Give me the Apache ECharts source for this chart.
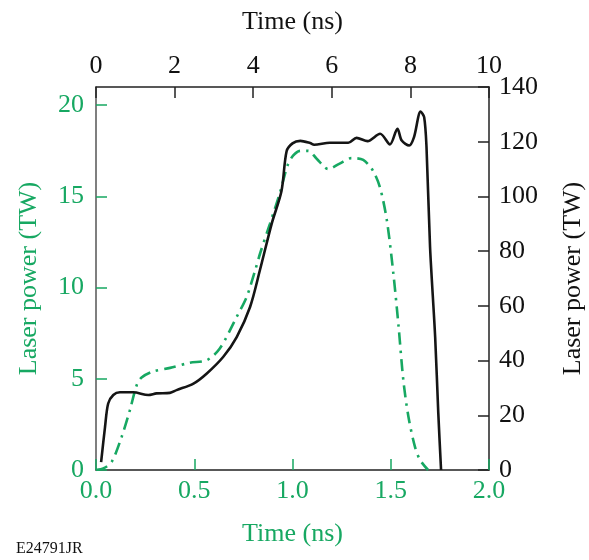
<!DOCTYPE html>
<html>
<head>
<meta charset="utf-8">
<script src="https://cdn.jsdelivr.net/npm/echarts@6/dist/echarts.min.js"></script>
<style>
html,body{margin:0;padding:0;background:#fff;}
#chart{width:589px;height:560px;}
</style>
</head>
<body>
<div id="chart"></div>
<script>
// Black solid curve: top axis time (ns), right axis power (TW)
var blackTime = [0.13,0.23,0.31,0.44,0.61,0.95,1.33,1.54,1.88,2.05,2.48,2.82,3.24,3.58,3.92,4.17,4.47,4.72,4.85,5.0,5.2,5.45,5.55,5.95,6.42,6.63,6.91,7.23,7.48,7.67,7.78,7.97,8.09,8.26,8.35,8.41,8.5,8.63,8.71,8.78];
var blackPower = [2.9,15.8,24.3,27.4,28.4,28.4,27.4,28,28.2,29.2,31.6,35.3,41.4,48.6,59.6,73,90,102,116.5,119.4,120.3,119.5,118.9,119.6,119.6,121.4,120.2,122.9,119,124.7,120.4,118.6,121.6,131,129,118,81.5,48.6,20.7,0];
// Green dash-dot curve: bottom axis time (ns), left axis power (TW)
var greenTime = [0.0,0.04,0.08,0.13,0.173,0.207,0.232,0.29,0.377,0.478,0.563,0.63,0.716,0.767,0.81,0.835,0.885,0.936,0.975,1.004,1.04,1.08,1.123,1.182,1.24,1.3,1.36,1.41,1.445,1.48,1.513,1.54,1.564,1.59,1.623,1.649,1.69];
var greenPower = [0,0.1,0.45,1.8,3.3,4.65,5.07,5.4,5.6,5.88,6.02,6.66,8.4,9.5,10.95,11.87,13.5,15.2,16.7,17.25,17.5,17.5,17.07,16.5,16.8,17.1,17.0,16.4,15.5,13.7,10.8,7.85,4.93,2.92,1.28,0.55,0];
var leftTicks = [0,5,10,15,20];
var rightTicks = [0,20,40,60,80,100,120,140];
var bottomTicks = [0,0.5,1.0,1.5,2.0];
var topTicks = [0,2,4,6,8,10];

var GREEN = '#17a862';
var FONT = '"Liberation Serif", "DejaVu Serif", serif';
var FS = 26;

function pairs(xs, ys){ return xs.map(function(x,i){ return [x, ys[i]]; }); }

var chart = echarts.init(document.getElementById('chart'), null, {renderer:'canvas'});
chart.setOption({
  animation:false,
  backgroundColor:'#fff',
  textStyle:{fontFamily:FONT},
  grid:{left:96, right:100, top:87, bottom:90, containLabel:false, outerBoundsMode:'none'},
  xAxis:[{
    type:'value', position:'bottom', min:0, max:2, interval:0.5,
    name:'Time (ns)', nameLocation:'middle', nameGap:51,
    nameTextStyle:{color:GREEN, fontSize:FS, fontFamily:FONT},
    axisLine:{show:true, onZero:false, lineStyle:{color:'#222', width:1.5}},
    axisTick:{show:true, inside:true, length:11, lineStyle:{color:GREEN, width:1.5}},
    axisLabel:{color:GREEN, fontSize:FS, fontFamily:FONT, margin:8,
      formatter:function(v){return v.toFixed(1);}},
    splitLine:{show:false}
  },{
    type:'value', position:'top', min:0, max:10, interval:2,
    name:'Time (ns)', nameLocation:'middle', nameGap:52,
    nameTextStyle:{color:'#111', fontSize:FS, fontFamily:FONT},
    axisLine:{show:true, onZero:false, lineStyle:{color:'#222', width:1.5}},
    axisTick:{show:true, inside:true, length:11, lineStyle:{color:'#222', width:1.5}},
    axisLabel:{color:'#111', fontSize:FS, fontFamily:FONT, margin:8},
    splitLine:{show:false}
  }],
  yAxis:[{
    type:'value', position:'left', min:0, max:21,
    name:'Laser power (TW)', nameLocation:'middle', nameGap:54,
    nameTextStyle:{color:GREEN, fontSize:FS, fontFamily:FONT},
    axisLine:{show:true, onZero:false, lineStyle:{color:'#555', width:1.5}},
    axisTick:{show:true, inside:true, length:11, customValues:leftTicks, lineStyle:{color:GREEN, width:1.5}},
    axisLabel:{color:GREEN, fontSize:FS, fontFamily:FONT, margin:12, customValues:leftTicks},
    splitLine:{show:false}
  },{
    type:'value', position:'right', min:0, max:140, interval:20,
    name:'Laser power (TW)', nameLocation:'middle', nameGap:71,
    nameTextStyle:{color:'#111', fontSize:FS, fontFamily:FONT},
    axisLine:{show:true, onZero:false, lineStyle:{color:'#222', width:1.5}},
    axisTick:{show:true, inside:true, length:11, lineStyle:{color:'#222', width:1.5}},
    axisLabel:{color:'#111', fontSize:FS, fontFamily:FONT, margin:10},
    splitLine:{show:false}
  }],
  graphic:[{
    type:'text', left:16, top:541,
    style:{text:'E24791JR', fill:'#111', font:'16px "Liberation Serif", serif'}
  }],
  series:[{
    type:'line', xAxisIndex:0, yAxisIndex:0, data:pairs(greenTime, greenPower),
    smooth:0.3, showSymbol:false, symbol:'none',
    lineStyle:{color:GREEN, width:2.6, type:[12,6,2.5,6]}, z:2
  },{
    type:'line', xAxisIndex:1, yAxisIndex:1, data:pairs(blackTime, blackPower),
    smooth:0.3, showSymbol:false, symbol:'none',
    lineStyle:{color:'#151515', width:2.6}, z:3
  }]
});
</script>
</body>
</html>
